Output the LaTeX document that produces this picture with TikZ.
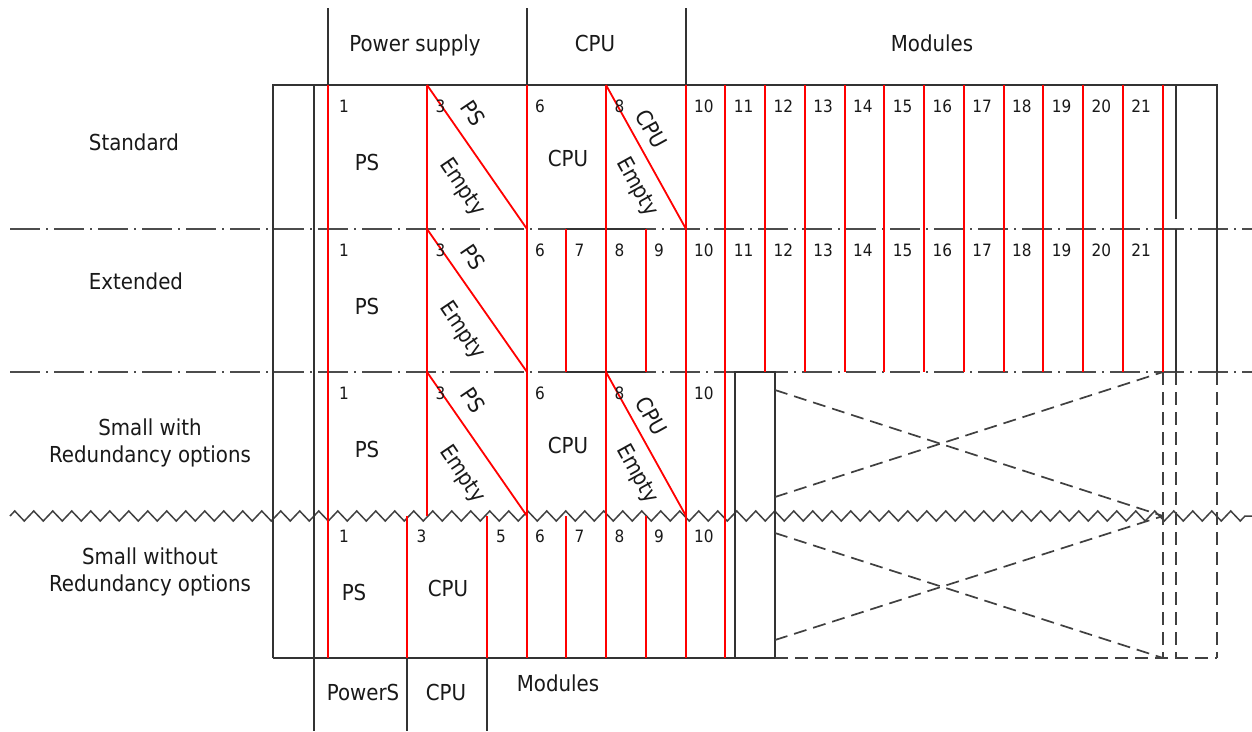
\documentclass[tikz,border=0pt]{standalone}
\usepackage{fontspec}
\setmainfont{DejaVu Sans}[FakeStretch=0.9]
\usetikzlibrary{decorations.pathmorphing}
\begin{document}
\begin{tikzpicture}[x=1pt,y=-1pt,
  blk/.style={draw=black!80, line width=1.7pt},
  redl/.style={draw=red, line width=1.8pt},
  dashdot/.style={draw=black!70, line width=1.7pt, dash pattern=on 30pt off 6pt on 2pt off 6pt},
  dsh/.style={draw=black!75, line width=1.7pt, dash pattern=on 13pt off 7pt},
  zz/.style={draw=black!75, line width=1.5pt, decorate, decoration={zigzag, segment length=19pt, amplitude=5pt}},
  num/.style={font=\fontsize{17}{20}\selectfont, inner sep=0pt, anchor=base west, text=black!90},
  lbl/.style={font=\fontsize{22}{26}\selectfont, inner sep=0pt, anchor=base, text=black!90},
  side/.style={font=\fontsize{22}{26.5}\selectfont, inner sep=0pt, align=center, text=black!90},
  rot/.style={font=\fontsize{22}{26}\selectfont, inner sep=0pt, text=black!90}]
\useasboundingbox (0,0) rectangle (1252,731);
\fill[white] (0,0) rectangle (1252,731);

% separators between variants
\draw[dashdot] (10,229) -- (1252,229);
\draw[dashdot] (10,372) -- (1252,372);
\draw[zz] (10,516) -- (1252,516);

% black frame and header / footer dividers
\draw[blk] (273,658) -- (273,85) -- (1217,85) -- (1217,372);
\draw[blk] (273,658) -- (775,658);
\draw[blk] (314,85) -- (314,731);
\draw[blk] (328,8) -- (328,85);
\draw[blk] (527,8) -- (527,85);
\draw[blk] (686,8) -- (686,85);
\draw[blk] (407,658) -- (407,731);
\draw[blk] (487,658) -- (487,731);
\draw[blk] (1176,85) -- (1176,219);
\draw[blk] (1176,229) -- (1176,372);
\draw[blk] (566,229) -- (646,229);
\draw[blk] (566,372) -- (646,372);
\draw[blk] (735,658) -- (735,372) -- (775,372) -- (775,658);

% dashed continuation
\draw[dsh] (775,658) -- (1217,658);
\draw[dsh] (1163,372) -- (1163,658);
\draw[dsh] (1176,372) -- (1176,658);
\draw[dsh] (1217,372) -- (1217,658);
\draw[dsh] (775,390) -- (1163,516);
\draw[dsh] (775,497) -- (1163,372);
\draw[dsh] (775,533) -- (1163,658);
\draw[dsh] (775,640) -- (1163,516);

% red slot lines
\draw[redl] (328,85) -- (328,658);
\draw[redl] (427,85) -- (427,516);
\draw[redl] (527,85) -- (527,658);
\draw[redl] (606,85) -- (606,658);
\draw[redl] (686,85) -- (686,658);
\draw[redl] (725,85) -- (725,658);
\draw[redl] (566,229) -- (566,372);
\draw[redl] (646,229) -- (646,372);
\draw[redl] (566,516) -- (566,658);
\draw[redl] (646,516) -- (646,658);
\draw[redl] (407,516) -- (407,658);
\draw[redl] (487,516) -- (487,658);
\foreach \xx in {765,805,845,884,924,964,1004,1043,1083,1123,1163} {
  \draw[redl] (\xx,85) -- (\xx,372);
}
% diagonals
\draw[redl] (427,85) -- (527,229);
\draw[redl] (606,85) -- (686,229);
\draw[redl] (427,229) -- (527,372);
\draw[redl] (427,372) -- (527,516);
\draw[redl] (606,372) -- (686,516);

% header texts
\node[lbl] (hps) at (415,51.5) {Power supply};
\node[lbl] (hcpu) at (595,51.5) {CPU};
\node[lbl] (hmod) at (932,51.5) {Modules};
\node[lbl] (fps) at (363,700.5) {PowerS};
\node[lbl] (fcpu) at (446,700.5) {CPU};
\node[lbl] (fmod) at (558,691.5) {Modules};

% side labels
\node[side] (sstd) at (134,142) {Standard};
\node[side] (sext) at (136,281) {Extended};
\node[side] (ssw) at (150,443) {Small with\\Redundancy options};
\node[side] (sswo) at (150,572) {Small without\\Redundancy options};

% row 1 : standard
\node[num] (a1) at (339,112) {1};
\node[num] (a3) at (435.5,112) {3};
\node[num] (a6) at (535,112) {6};
\node[num] (a8) at (614.5,112) {8};
\foreach \k in {10,...,21} {
  \node[num] (a\k) at ({694+(\k-10)*39.75},112) {\k};
}
\node[lbl] (aps) at (367,170.5) {PS};
\node[lbl] (acpu) at (568,166.5) {CPU};
\node[rot, rotate=-56] (apsr) at (473,113) {PS};
\node[rot, rotate=-56] (aemp) at (461.7,187.3) {Empty};
\node[rot, rotate=-61] (acpur) at (651.7,129) {CPU};
\node[rot, rotate=-61] (aemp2) at (636.7,187.3) {Empty};

% row 2 : extended
\node[num] (b1) at (339,256) {1};
\node[num] (b3) at (435.5,256) {3};
\node[num] (b6) at (535,256) {6};
\node[num] (b7) at (574.5,256) {7};
\node[num] (b8) at (614.5,256) {8};
\node[num] (b9) at (654,256) {9};
\foreach \k in {10,...,21} {
  \node[num] (b\k) at ({694+(\k-10)*39.75},256) {\k};
}
\node[lbl] (bps) at (367,314.5) {PS};
\node[rot, rotate=-56] (bpsr) at (473,257) {PS};
\node[rot, rotate=-56] (bemp) at (461.7,331) {Empty};

% row 3 : small with redundancy
\node[num] (c1) at (339,399) {1};
\node[num] (c3) at (435.5,399) {3};
\node[num] (c6) at (535,399) {6};
\node[num] (c8) at (614.5,399) {8};
\node[num] (c10) at (694,399) {10};
\node[lbl] (cps) at (367,457.5) {PS};
\node[lbl] (ccpu) at (568,453.5) {CPU};
\node[rot, rotate=-56] (cpsr) at (473,400) {PS};
\node[rot, rotate=-56] (cemp) at (461.7,474.3) {Empty};
\node[rot, rotate=-61] (ccpur) at (651.7,416) {CPU};
\node[rot, rotate=-61] (cemp2) at (636.7,474.3) {Empty};

% row 4 : small without redundancy
\node[num] (d1) at (339,542) {1};
\node[num] (d3) at (416.5,542) {3};
\node[num] (d5) at (496,542) {5};
\node[num] (d6) at (535,542) {6};
\node[num] (d7) at (574.5,542) {7};
\node[num] (d8) at (614.5,542) {8};
\node[num] (d9) at (654,542) {9};
\node[num] (d10) at (694,542) {10};
\node[lbl] (dps) at (354,600) {PS};
\node[lbl] (dcpu) at (448,596) {CPU};
\end{tikzpicture}
\end{document}
